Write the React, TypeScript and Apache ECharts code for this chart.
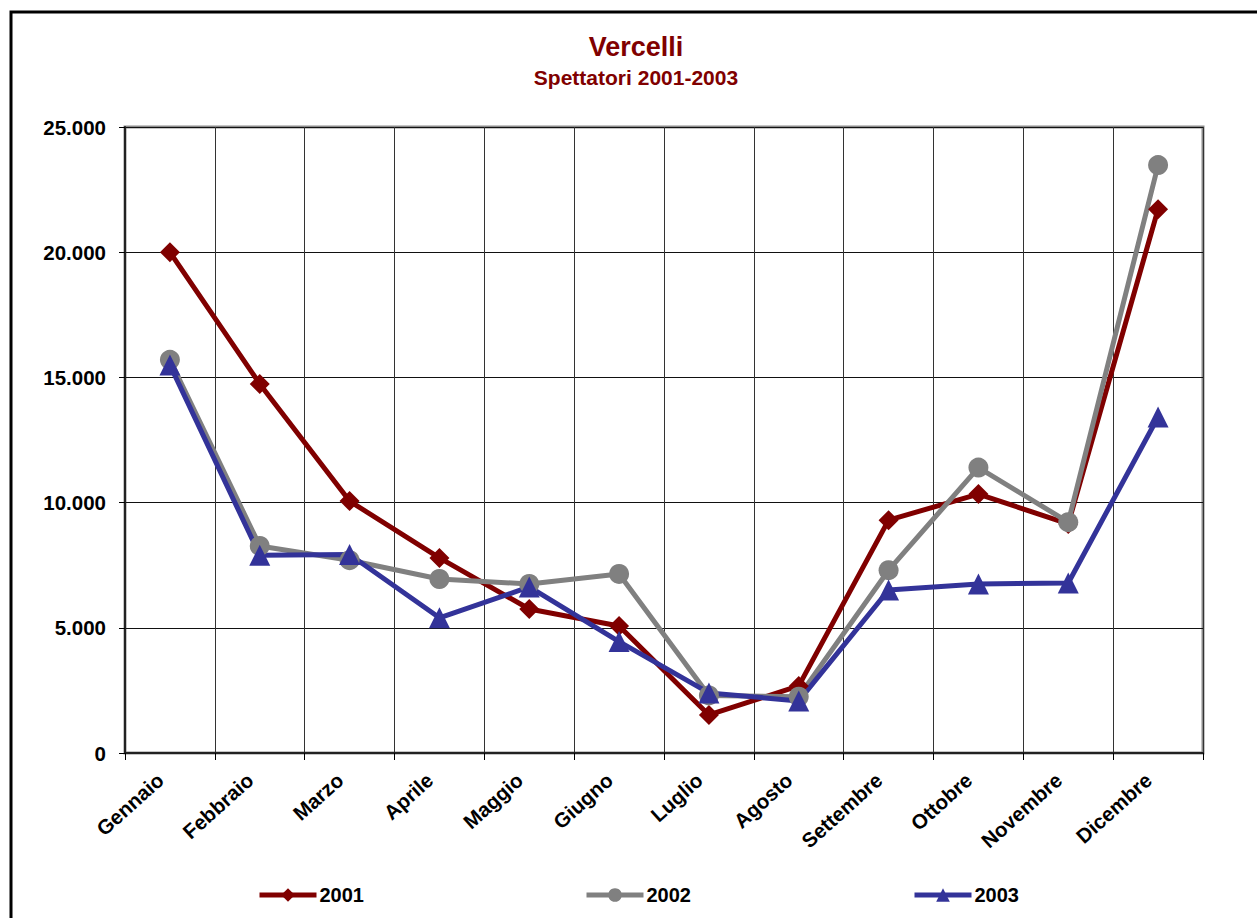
import React, { useEffect, useRef } from "react";
import * as echarts from "echarts";

const months = ["Gennaio", "Febbraio", "Marzo", "Aprile", "Maggio", "Giugno", "Luglio", "Agosto", "Settembre", "Ottobre", "Novembre", "Dicembre"];
const s2001 = [20000, 14740, 10060, 7790, 5750, 5070, 1520, 2680, 9300, 10340, 9150, 21720];
const s2002 = [15700, 8270, 7700, 6950, 6750, 7150, 2300, 2250, 7300, 11400, 9220, 23480];
const s2003 = [15500, 7900, 7930, 5400, 6630, 4450, 2400, 2080, 6510, 6750, 6790, 13420];
const yTicks = { min: 0, max: 25000, interval: 5000 };

const FONT = "'Liberation Sans', Arial, sans-serif";

function fmt(v: number): string {
  return String(Math.round(v)).replace(/\B(?=(\d{3})+(?!\d))/g, ".");
}

export default function App() {
  const ref = useRef<HTMLDivElement>(null);
  useEffect(() => {
    if (!ref.current) return;
    const chart = echarts.init(ref.current, undefined, { renderer: "svg" });
    const mk = (name: string, data: number[], color: string, symbol: string, size: number) => ({
      name,
      type: "line",
      data,
      symbol,
      symbolSize: size,
      lineStyle: { color, width: 5 },
      itemStyle: { color },
      emphasis: { disabled: true },
    });
    const legendBase = {
      top: 885,
      padding: 0,
      itemWidth: 57,
      itemHeight: 17,
      itemGap: 3,
      lineStyle: { width: 5 },
      textStyle: { fontFamily: FONT, fontWeight: "bold", fontSize: 20, color: "#000", padding: [0, 0, 0, -2] },
      selectedMode: false,
    };
    chart.setOption({
      animation: false,
      backgroundColor: "#fff",
      textStyle: { fontFamily: FONT },
      grid: { left: 125, top: 127, width: 1078, height: 626, show: true, borderColor: "#8c8c8c", borderWidth: 3, backgroundColor: "transparent" },
      title: [
        { text: "Vercelli", left: 631, top: 28, textAlign: "center", textStyle: { fontFamily: FONT, fontWeight: "bold", fontSize: 27, color: "#800000" } },
        { text: "Spettatori 2001-2003", left: 631, top: 62, textAlign: "center", textStyle: { fontFamily: FONT, fontWeight: "bold", fontSize: 21, color: "#800000" } },
      ],
      legend: [
        { ...legendBase, left: 257, data: ["2001"] },
        { ...legendBase, left: 584, data: ["2002"] },
        { ...legendBase, left: 912, data: ["2003"] },
      ],
      xAxis: {
        type: "category",
        data: months,
        boundaryGap: true,
        axisLine: { show: true, lineStyle: { color: "#222", width: 2 } },
        axisTick: { show: true, length: 7, interval: 0, lineStyle: { color: "#000", width: 1 } },
        axisLabel: { interval: 0, rotate: 42, margin: 15, padding: [0, 13, 0, 0], fontFamily: FONT, fontWeight: "bold", fontSize: 20.5, color: "#000" },
        splitLine: { show: true, interval: 0, lineStyle: { color: "#333", width: 1 } },
      },
      yAxis: {
        type: "value",
        min: yTicks.min,
        max: yTicks.max,
        interval: yTicks.interval,
        axisLine: { show: true, lineStyle: { color: "#222", width: 2 } },
        axisTick: { show: true, length: 6, lineStyle: { color: "#000", width: 1 } },
        axisLabel: { margin: 19, fontFamily: FONT, fontWeight: "bold", fontSize: 20.5, color: "#000", formatter: (v: number) => fmt(v) },
        splitLine: { show: true, lineStyle: { color: "#111", width: 1 } },
      },
      graphic: [
        { type: "rect", shape: { x: 11, y: 12, width: 1400, height: 1000 }, style: { fill: "none", stroke: "#000", lineWidth: 3 }, silent: true, z: 100 },
      ],
      series: [
        mk("2001", s2001, "#800000", "diamond", 20),
        mk("2002", s2002, "#808080", "circle", 20),
        mk("2003", s2003, "#333399", "triangle", 21),
      ],
    });
    return () => chart.dispose();
  }, []);
  return <div ref={ref} style={{ position: "absolute", left: 0, top: 0, width: 1257, height: 918 }} />;
}
